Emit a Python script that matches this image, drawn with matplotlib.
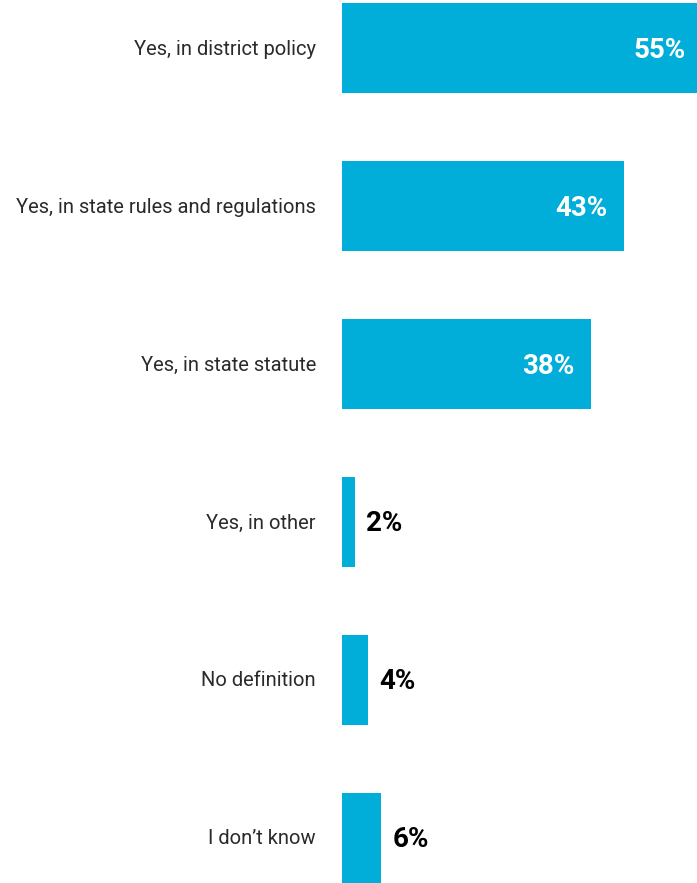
import matplotlib
matplotlib.use("Agg")
import matplotlib.pyplot as plt

categories = [
    "Yes, in district policy",
    "Yes, in state rules and regulations",
    "Yes, in state statute",
    "Yes, in other",
    "No definition",
    "I don\u2019t know",
]
values = [55, 43, 38, 2, 4, 6]
value_labels = ["55%", "43%", "38%", "2%", "4%", "6%"]

family = "Roboto"
bar_color = "#00AED9"

fig = plt.figure(figsize=(6.97, 8.83), dpi=100)
ax = fig.add_axes([342 / 697, 0, 355 / 697, 1])

ypos = list(range(len(categories)))
ax.barh(ypos, values, height=0.57, color=bar_color)
ax.set_xlim(0, 54.2)
ax.set_ylim(5.285, -0.304)
ax.axis("off")

for y, cat in zip(ypos, categories):
    ax.annotate(cat, xy=(0, y), xytext=(-26, -1), textcoords="offset pixels",
                ha="right", va="center", fontsize=14.5, fontweight="normal",
                color="#2a2a2a", family=family)

for y, v, lab in zip(ypos, values, value_labels):
    if v > 20:
        ax.annotate(lab, xy=(v, y), xytext=(-16, -2), textcoords="offset pixels",
                    ha="right", va="center", fontsize=20, fontweight="bold",
                    color="white", family=family, annotation_clip=False)
    else:
        ax.annotate(lab, xy=(v, y), xytext=(11, -2), textcoords="offset pixels",
                    ha="left", va="center", fontsize=20, fontweight="bold",
                    color="black", family=family, annotation_clip=False)

fig.savefig("out.png", dpi=100)
